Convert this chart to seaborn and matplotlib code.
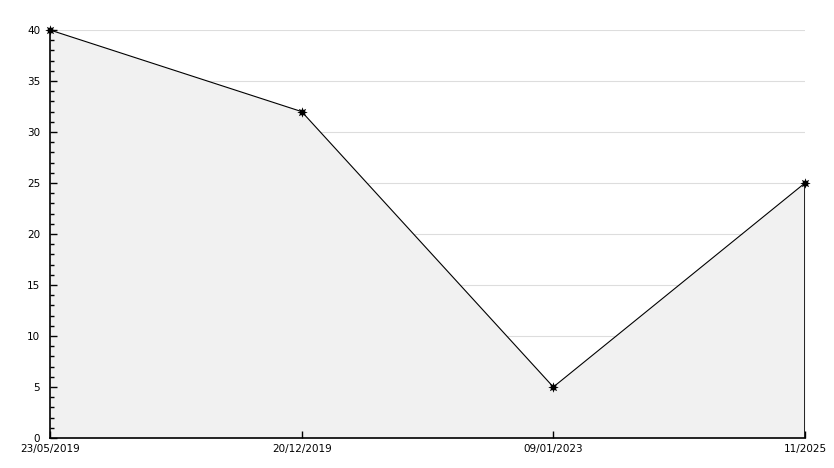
import seaborn as sns
import matplotlib.pyplot as plt
from matplotlib.ticker import MultipleLocator

# data
dates = ["23/05/2019", "20/12/2019", "09/01/2023", "11/2025"]
values = [40, 32, 5, 25]
positions = list(range(len(dates)))

sns.set_style("white")
plt.rcParams['font.family'] = ['DejaVu Sans']

fig = plt.figure(figsize=(8.34, 4.68), dpi=100)
ax = fig.add_axes([50 / 834, 30 / 468, 755 / 834, 408 / 468])
ax.set_axisbelow(False)

# grid first, then the fill covers it below the line
for y in range(5, 45, 5):
    ax.axhline(y, color="#dddddd", lw=0.8, zorder=0.5)

ax.fill_between(positions, values, 0, color="#f1f1f1", lw=0, zorder=1)
ax.plot([positions[-1], positions[-1]], [0, values[-1]], color="black", lw=1.2, zorder=2)

sns.lineplot(x=positions, y=values, ax=ax, color="black", lw=0.8,
             marker=(8, 1, 0), markersize=7.5, markeredgewidth=0,
             markerfacecolor="black", zorder=3, clip_on=False)

ax.set_xlim(0, 3)
ax.set_ylim(0, 40)
ax.set_xticks(positions)
ax.set_xticklabels(dates)
ax.yaxis.set_major_locator(MultipleLocator(5))
ax.yaxis.set_minor_locator(MultipleLocator(1))

for side in ["top", "right"]:
    ax.spines[side].set_visible(False)
for side in ["left", "bottom"]:
    ax.spines[side].set_color("black")
    ax.spines[side].set_linewidth(1.2)
    ax.spines[side].set_zorder(4)

ax.tick_params(axis="y", which="major", direction="in", length=5, width=1,
               color="black", labelcolor="black", labelsize=7.5, pad=7, left=True)
ax.tick_params(axis="y", which="minor", direction="in", length=3, width=1,
               color="black", left=True)
ax.tick_params(axis="x", which="major", direction="in", length=5, width=1,
               color="black", labelcolor="black", labelsize=7.5, pad=4, bottom=True)
ax.set_xlabel("")
ax.set_ylabel("")

fig.savefig("out.png", dpi=100)
